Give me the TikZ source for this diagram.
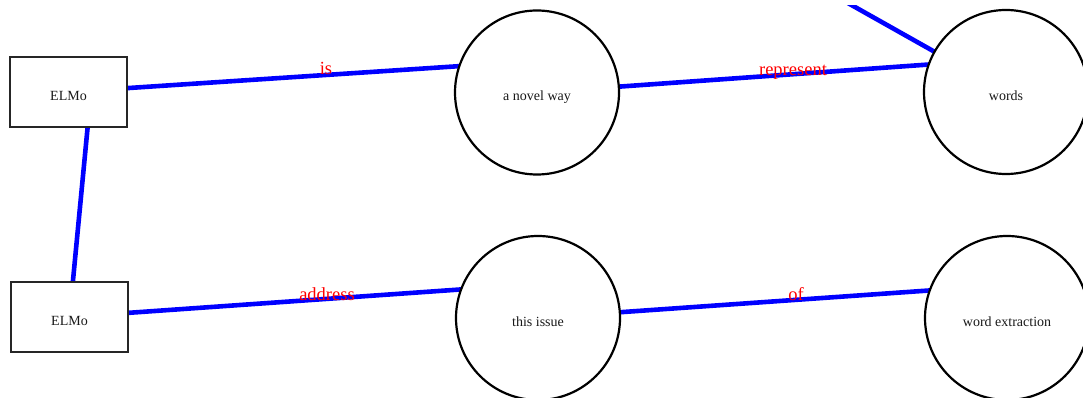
\documentclass[tikz,border=0pt]{standalone}
\usepackage{fontspec}
\setmainfont{Liberation Serif}
\usetikzlibrary{backgrounds}
\begin{document}
\begin{tikzpicture}[x=1pt,y=-1pt,
  nodetext/.style={font=\fontsize{14}{16}\selectfont,text=black!90,text height=16.5pt,text depth=0pt},
  boxnode/.style={nodetext,draw=black!85,line width=2.2pt,fill=white,minimum width=117pt,minimum height=70pt,inner sep=0pt},
  circnode/.style={nodetext,circle,draw=black,line width=2.2pt,fill=white,minimum size=164pt,inner sep=0pt},
  link/.style={draw=blue,line width=4.6pt},
  elabel/.style={text=red,font=\fontsize{18.5}{20}\selectfont,anchor=base,inner sep=0pt}]
\clip (0,0) rectangle (1083,398);
\useasboundingbox (0,0) rectangle (1083,398);
\node[boxnode] (b1) at (68.5,92) {ELMo};
\node[boxnode] (b2) at (69.5,317) {ELMo};
\node[circnode] (c1) at (537,92.5) {a novel way};
\node[circnode] (c2) at (1006,92) {words};
\node[circnode] (c3) at (538,318) {this issue};
\node[circnode] (c4) at (1007,318) {word extraction};
\coordinate (t1) at (537,61);
\coordinate (t2) at (1006,59);
\coordinate (t3) at (823,-11);
\coordinate (t4) at (91,92);
\coordinate (t5) at (538,284);
\coordinate (t6) at (1007,285);
\begin{scope}[on background layer]
\draw[link] (b1.center) -- (t1);
\draw[link] (c1.center) -- (t2);
\begin{scope}
\clip (0,6) rectangle (1083,398);
\draw[link] (c2.center) -- (t3);
\end{scope}
\draw[link] (b2.center) -- (t4);
\draw[link] (b2.center) -- (t5);
\draw[link] (c3.center) -- (t6);
\end{scope}
\node[elabel] (l1) at (326,75) {is};
\node[elabel] (l2) at (793,76) {represent};
\node[elabel] (l3) at (327,300) {address};
\node[elabel] (l4) at (796,300) {of};
\end{tikzpicture}
\end{document}
